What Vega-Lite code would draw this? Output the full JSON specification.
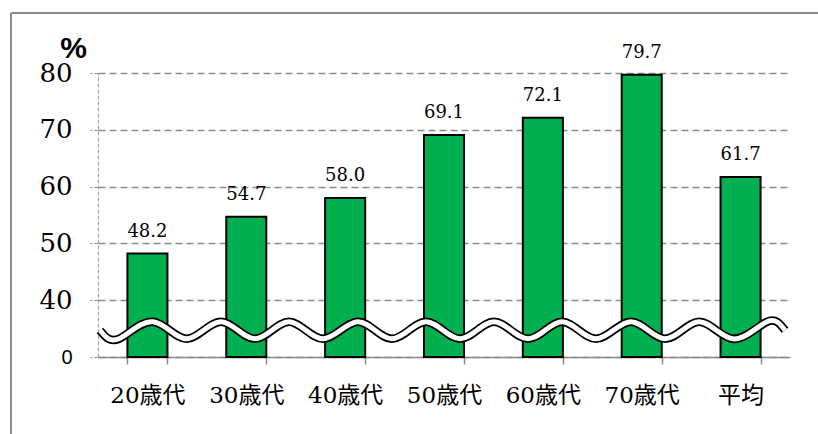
{
  "$schema": "https://vega.github.io/schema/vega-lite/v6.json",
  "width": 692,
  "height": 284,
  "autosize": "none",
  "padding": {"left": 98, "top": 73, "right": 28, "bottom": 77},
  "background": "white",
  "config": {"view": {"stroke": null}},
  "resolve": {"scale": {"x": "independent"}, "axis": {"x": "independent", "y": "independent"}},
  "layer": [
    {
      "data": {"values": [
        {"group": "20歳代", "value": 48.2},
        {"group": "30歳代", "value": 54.7},
        {"group": "40歳代", "value": 58.0},
        {"group": "50歳代", "value": 69.1},
        {"group": "60歳代", "value": 72.1},
        {"group": "70歳代", "value": 79.7},
        {"group": "平均", "value": 61.7}
      ]},
      "encoding": {
        "x": {
          "field": "group", "type": "nominal", "sort": null,
          "scale": {"paddingInner": 0.595, "paddingOuter": 0.2975},
          "axis": {
            "title": null, "labelAngle": 0,
            "labelFont": "DejaVu Serif, Noto Sans CJK JP",
            "labelFontSize": 23, "labelColor": "#000000",
            "labelBaseline": "alphabetic", "labelPadding": 38,
            "tickBand": "extent", "tickSize": 7, "tickColor": "#8c8c8c", "tickWidth": 1.5,
            "domainColor": "#8c8c8c", "domainWidth": 1.5
          }
        },
        "y": {
          "field": "value", "type": "quantitative",
          "scale": {"domain": [30, 80], "nice": false, "zero": false},
          "axis": {
            "values": [30, 40, 50, 60, 70, 80],
            "labelExpr": "datum.value == 30 ? '0' : datum.label",
            "labelFont": {"condition": {"test": "datum.value == 30", "value": "Liberation Sans"}, "value": "DejaVu Serif"},
            "labelFontSize": {"condition": {"test": "datum.value == 30", "value": 20}, "value": 26},
            "labelColor": "#000000",
            "labelPadding": 18,
            "labelBaseline": "middle",
            "tickSize": 8, "tickColor": "#8c8c8c", "tickWidth": 1.2, "tickDash": [4, 2],
            "domainColor": "#a6a6a6", "domainWidth": 1.2, "domainDash": [4, 2],
            "grid": true, "gridColor": "#8c8c8c", "gridWidth": 1.6, "gridDash": [7, 4],
            "title": "%", "titleAngle": 0, "titleFont": "Liberation Sans", "titleFontWeight": "bold",
            "titleFontSize": 30, "titleColor": "#000000", "titleX": -25, "titleY": -16,
            "titleAlign": "center", "titleBaseline": "alphabetic", "titlePadding": 0
          }
        }
      },
      "layer": [
        {
          "mark": {"type": "bar", "fill": "#00B050", "stroke": "#000000", "strokeWidth": 2},
          "encoding": {"y2": {"datum": 30}}
        },
        {
          "mark": {"type": "text", "baseline": "alphabetic", "dy": -17, "font": "DejaVu Serif", "fontSize": 18, "color": "#000000"},
          "encoding": {"text": {"field": "value", "type": "quantitative", "format": ".1f"}}
        }
      ]
    },
    {
      "data": {"values": [
        {"pos": 0.02, "level": 34.7},
        {"pos": 0.212, "level": 33.2},
        {"pos": 0.556, "level": 36.2},
        {"pos": 0.9, "level": 33.2},
        {"pos": 1.244, "level": 36.2},
        {"pos": 1.588, "level": 33.2},
        {"pos": 1.932, "level": 36.2},
        {"pos": 2.276, "level": 33.2},
        {"pos": 2.63, "level": 36.2},
        {"pos": 2.974, "level": 33.2},
        {"pos": 3.318, "level": 36.2},
        {"pos": 3.662, "level": 33.2},
        {"pos": 4.006, "level": 36.2},
        {"pos": 4.35, "level": 33.2},
        {"pos": 4.694, "level": 36.2},
        {"pos": 5.037, "level": 33.2},
        {"pos": 5.391, "level": 36.2},
        {"pos": 5.735, "level": 33.2},
        {"pos": 6.079, "level": 36.2},
        {"pos": 6.423, "level": 33.2},
        {"pos": 6.767, "level": 36.2},
        {"pos": 6.949, "level": 34.7}
      ]},
      "encoding": {
        "x": {"field": "pos", "type": "quantitative", "scale": {"domain": [0, 7], "nice": false, "zero": false}, "axis": null},
        "y": {"field": "level", "type": "quantitative", "scale": {"domain": [30, 80], "nice": false, "zero": false}, "axis": null}
      },
      "layer": [
        {"mark": {"type": "line", "interpolate": "natural", "color": "#000000", "strokeWidth": 8.5, "strokeCap": "butt"}},
        {"mark": {"type": "line", "interpolate": "natural", "color": "#ffffff", "strokeWidth": 5, "strokeCap": "butt"}},
        {
          "mark": {"type": "rule", "color": "#8c8c8c", "strokeWidth": 1.5},
          "encoding": {
            "x": {"datum": -0.88, "type": "quantitative", "scale": {"domain": [0, 7], "nice": false, "zero": false}, "axis": null},
            "x2": {"datum": 7.5},
            "y": {"datum": 90.5, "type": "quantitative", "scale": {"domain": [30, 80], "nice": false, "zero": false}, "axis": null}
          }
        },
        {
          "mark": {"type": "rule", "color": "#8c8c8c", "strokeWidth": 1.5},
          "encoding": {
            "x": {"datum": -0.88, "type": "quantitative", "scale": {"domain": [0, 7], "nice": false, "zero": false}, "axis": null},
            "y": {"datum": 90.5, "type": "quantitative", "scale": {"domain": [30, 80], "nice": false, "zero": false}, "axis": null},
            "y2": {"datum": 10}
          }
        }
      ]
    }
  ]
}
